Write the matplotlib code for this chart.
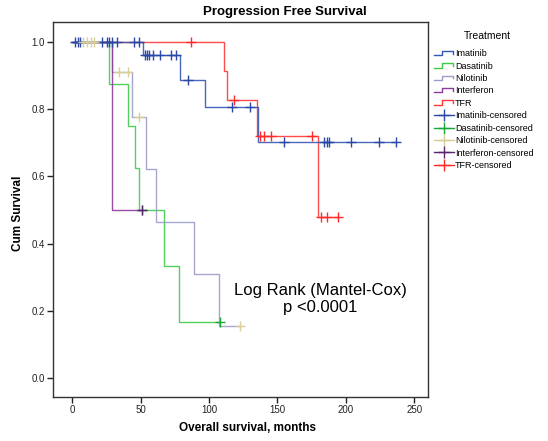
import numpy as np
import matplotlib
matplotlib.use('Agg')
import matplotlib.pyplot as plt
from matplotlib.lines import Line2D
from matplotlib.legend_handler import HandlerBase

plt.rcParams['font.family'] = ['Liberation Sans', 'DejaVu Sans']

# Kaplan-Meier steps: event times (months) and survival after each event
groups = ['Imatinib', 'Dasatinib', 'Nilotinib', 'Interferon', 'TFR']

imatinib_events = [52, 79, 97, 136]
imatinib_surv = [0.96, 0.885, 0.805, 0.703]
imatinib_cens = [2, 4.6, 5.7, 21.7, 25.4, 27.3, 29, 32.7, 45.3, 49.2, 53, 54.5, 56, 59, 64,
                 72, 76, 85, 117, 130, 155, 184, 186, 188, 204, 224, 237]

dasatinib_events = [27, 41, 46, 49, 67, 78]
dasatinib_surv = [0.875, 0.75, 0.625, 0.5, 0.333, 0.167]
dasatinib_cens = [51, 108]

nilotinib_events = [29, 44, 54, 61, 89, 107]
nilotinib_surv = [0.909, 0.775, 0.62, 0.465, 0.31, 0.155]
nilotinib_cens = [7.8, 10.7, 13.6, 16.3, 34, 41, 49, 123]

interferon_events = [29]
interferon_surv = [0.5]
interferon_cens = [51]

tfr_events = [111, 113, 135, 180]
tfr_surv = [0.914, 0.825, 0.72, 0.48]
tfr_cens = [87, 118, 137, 140, 145, 175, 182, 186, 194]

line_colors = ['#3556b5', '#3ccc4a', '#9c9cca', '#8c3a9c', '#ff3838']
cens_colors = ['#2a48a8', '#1aa83a', '#d8cf98', '#5c2470', '#ff2a2a']

series = [
    (imatinib_events, imatinib_surv, imatinib_cens),
    (dasatinib_events, dasatinib_surv, dasatinib_cens),
    (nilotinib_events, nilotinib_surv, nilotinib_cens),
    (interferon_events, interferon_surv, interferon_cens),
    (tfr_events, tfr_surv, tfr_cens),
]


def surv_at(t, events, surv):
    s = 1.0
    for e, v in zip(events, surv):
        if t >= e:
            s = v
    return s


fig = plt.figure(figsize=(5.48, 4.41), dpi=100)
ax = fig.add_axes([0.0967, 0.0998, 0.684, 0.851])

# draw TFR first so blue ends up on top of it along 1.0, as in the original
order = [4, 0, 1, 2, 3]
for i in order:
    events, surv, cens = series[i]
    t_end = max(max(cens), max(events))
    xs = [0] + list(events) + [t_end]
    ys = [1.0] + list(surv) + [surv[-1]]
    ax.step(xs, ys, where='post', color=line_colors[i], lw=1.0, alpha=0.9, zorder=2)

for i in order:
    events, surv, cens = series[i]
    cy = [surv_at(c, events, surv) for c in cens]
    ax.plot(cens, cy, ls='none', marker='+', ms=7.5, mew=1.0, color=cens_colors[i], zorder=3)

ax.set_xlim(-14, 260)
ax.set_ylim(-0.056, 1.059)
ax.set_xticks([0, 50, 100, 150, 200, 250])
ax.set_yticks([0.0, 0.2, 0.4, 0.6, 0.8, 1.0])
ax.set_yticklabels(['0.0', '0.2', '0.4', '0.6', '0.8', '1.0'])
ax.tick_params(direction='out', length=4, width=1, labelsize=7, colors='#222222', pad=2)
for sp in ax.spines.values():
    sp.set_linewidth(1.0)
    sp.set_color('#333333')

fig.text(0.52, 0.972, 'Progression Free Survival', ha='center', va='center',
         fontsize=9.5, fontweight='bold')
fig.text(0.451, 0.030, 'Overall survival, months', ha='center', va='center',
         fontsize=8.5, fontweight='bold')
fig.text(0.033, 0.517, 'Cum Survival', ha='center', va='center', rotation=90,
         fontsize=8.5, fontweight='bold')

fig.text(0.585, 0.322, 'Log Rank (Mantel-Cox)\np <0.0001',
         ha='center', va='center', fontsize=12, linespacing=1.1)


class StepHandler(HandlerBase):
    def create_artists(self, legend, orig_handle, xdescent, ydescent, width, height, fontsize, trans):
        x0, y0 = -xdescent, -ydescent
        xs = np.array([0.0, 0.4, 0.4, 0.95, 0.95]) * width + x0
        ys = np.array([0.15, 0.15, 0.85, 0.85, 0.4]) * height + y0
        ln = Line2D(xs, ys, color=orig_handle.get_color(), lw=1.0, transform=trans)
        return [ln]


step_handles = [Line2D([], [], color=c) for c in line_colors]
cens_handles = [Line2D([], [], ls='-', lw=1.0, marker='+', ms=8, mew=1.0, color=c) for c in cens_colors]
labels = groups + [g + '-censored' for g in groups]
handler_map = {h: StepHandler() for h in step_handles}
fig.text(0.89, 0.919, 'Treatment', ha='center', va='center', fontsize=7.5)
leg = fig.legend(step_handles + cens_handles, labels, handler_map=handler_map,
                 loc='upper left', bbox_to_anchor=(0.78, 0.903), frameon=False,
                 fontsize=6.5, handlelength=2.2, handletextpad=0.15,
                 labelspacing=0.38, borderpad=0.2)

fig.savefig('out.png', dpi=100)
